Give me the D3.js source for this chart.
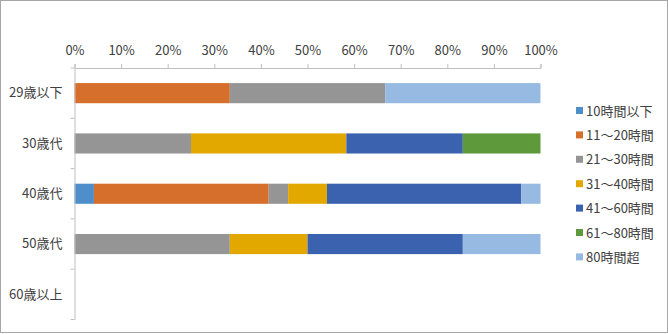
<!DOCTYPE html>
<html><head><meta charset="utf-8">
<script src="https://cdn.jsdelivr.net/npm/d3@7"></script>
<style>body{margin:0;background:#fff}svg{display:block}text{font-family:"Noto Sans CJK JP","Noto Sans",sans-serif;fill:#404040}</style>
</head><body><svg id="c" width="668" height="334"></svg>
<script>
const categories = ["29歳以下","30歳代","40歳代","50歳代","60歳以上"];
const seriesNames = ["10時間以下","11～20時間","21～30時間","31～40時間","41～60時間","61～80時間","80時間超"];
const colors = ["#4E8FCB","#D66E2C","#959595","#E3A800","#3A62AE","#5E9A3C","#97BAE2"];
const s10  = [0, 0, 4.17, 0, 0];
const s20  = [33.33, 0, 37.5, 0, 0];
const s30  = [33.33, 25, 4.17, 33.33, 0];
const s40  = [0, 33.33, 8.33, 16.67, 0];
const s60  = [0, 25, 41.67, 33.33, 0];
const s80  = [0, 16.67, 0, 0, 0];
const s80p = [33.33, 0, 4.17, 16.67, 0];
const tickValues = [0,10,20,30,40,50,60,70,80,90,100];

const values = [s10,s20,s30,s40,s60,s80,s80p];
const rows = categories.map((c,i)=>{const o={cat:c}; seriesNames.forEach((s,j)=>o[s]=values[j][i]); return o;});
const stack = d3.stack().keys(seriesNames)(rows);

const svg = d3.select("#c");
svg.append("rect").attr("x",0.5).attr("y",0.5).attr("width",667).attr("height",332).attr("fill","#fff").attr("stroke","#A6A6A6");

const x = d3.scaleLinear().domain([0,100]).range([74.5,540.5]);
const y = d3.scaleBand().domain(categories).range([68,319.5]).paddingInner(0.6).paddingOuter(0.3);

svg.append("g").selectAll("g").data(stack).join("g").attr("fill",(d,i)=>colors[i])
  .selectAll("rect").data(d=>d).join("rect")
  .attr("x",d=>x(d[0])).attr("width",d=>x(d[1])-x(d[0]))
  .attr("y",d=>y(d.data.cat)).attr("height",y.bandwidth());

const xa = svg.append("g").attr("transform","translate(0,68)")
  .call(d3.axisTop(x).tickValues(tickValues).tickFormat(d=>d+"%").tickSize(4).tickPadding(9));
xa.select(".domain").attr("stroke","#BFBFBF");
xa.selectAll(".tick line").attr("stroke","#BFBFBF");
xa.selectAll("text").attr("font-size","13px").style("fill","#404040");

const yBand = d3.scaleBand().domain(categories).range([68,319.5]);
const ya = svg.append("g").attr("transform","translate(74.5,0)")
  .call(d3.axisLeft(yBand).tickSize(0).tickPadding(12));
ya.select(".domain").attr("stroke","#BFBFBF");
ya.selectAll("text").attr("font-size","13px").style("fill","#404040");
const bounds = categories.map((c,i)=>yBand(c)+yBand.bandwidth());
svg.append("g").selectAll("line").data([68].concat(bounds)).join("line")
  .attr("x1",70.5).attr("x2",74.5).attr("y1",d=>d).attr("y2",d=>d).attr("stroke","#BFBFBF");

const lg = svg.append("g").selectAll("g").data(seriesNames).join("g")
  .attr("transform",(d,i)=>`translate(576,${111+i*24.4})`);
lg.append("rect").attr("x",0).attr("y",-4).attr("width",7).attr("height",7).attr("fill",(d,i)=>colors[i]);
lg.append("text").attr("x",10).attr("y",0).attr("dy","0.35em").attr("font-size","13px").text(d=>d);
</script></body></html>
